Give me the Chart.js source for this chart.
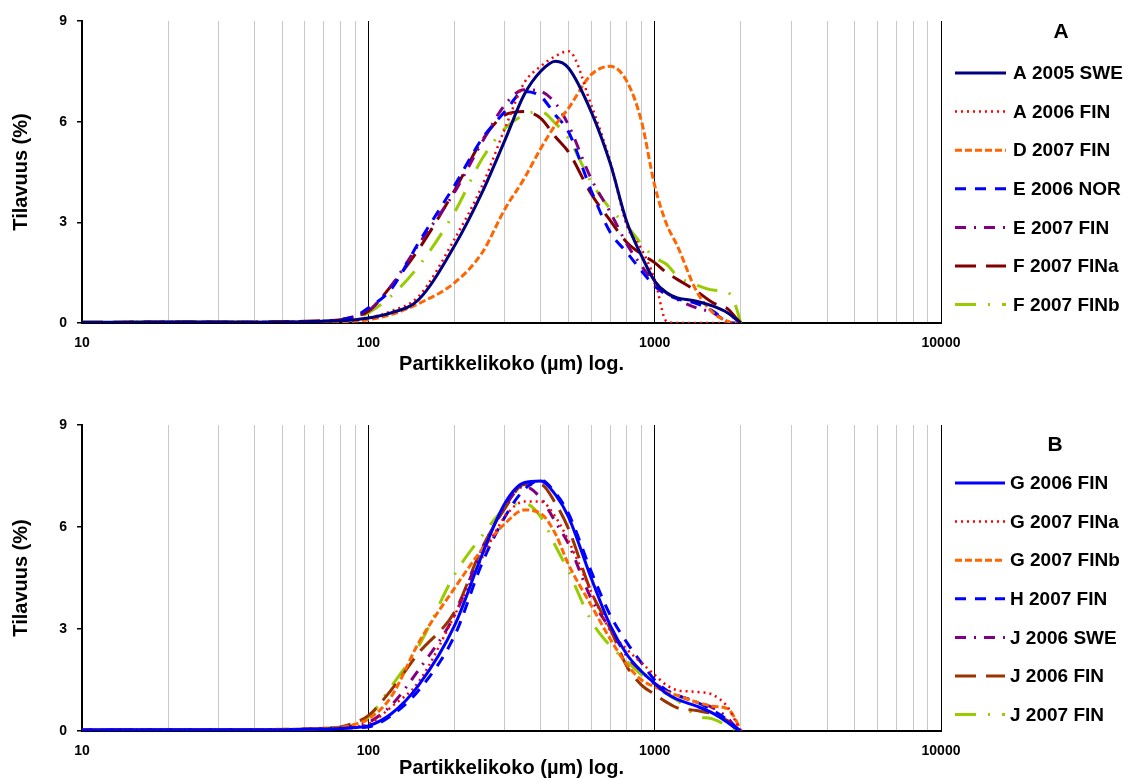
<!DOCTYPE html>
<html>
<head>
<meta charset="utf-8">
<script src="https://cdn.jsdelivr.net/npm/chart.js@4.4.1/dist/chart.umd.min.js"></script>
<style>
  html, body { margin: 0; padding: 0; background: #fff; }
  #wrap { position: relative; width: 1129px; height: 778px; }
  canvas { position: absolute; left: 0; }
</style>
</head>
<body>
<div id="wrap">
  <canvas id="chartA" width="1129" height="389" style="top:0"></canvas>
  <canvas id="chartB" width="1129" height="389" style="top:389px"></canvas>
</div>
<script>
// particle size (µm) where the curves were read
const sizes = [10, 20, 30, 40, 50, 60, 70, 80, 90, 100, 120, 150, 200, 250, 300, 350, 400, 450, 500,
               600, 700, 800, 900, 1000, 1100, 1200, 1400, 1600, 1800, 1900, 2000];
const xTickLabels = [10, 100, 1000, 10000];
const yTicks = [0, 3, 6, 9];

// panel A
const labelsA = ["A 2005 SWE", "A 2006 FIN", "D 2007 FIN", "E 2006 NOR", "E 2007 FIN", "F 2007 FINa", "F 2007 FINb"];
const a2005swe = [0.02,0.03,0.03,0.02,0.03,0.04,0.05,0.07,0.1,0.15,0.3,0.7,2.3,3.9,5.45,6.8,7.5,7.8,7.6,6.3,4.75,3.0,2.0,1.25,0.9,0.75,0.65,0.5,0.3,0.15,0];
const a2006fin = [0.02,0.03,0.03,0.02,0.03,0.04,0.05,0.07,0.1,0.15,0.35,0.8,2.5,4.1,5.8,7.15,7.65,7.95,8.1,6.5,4.8,2.9,2.2,1.3,0.05,0,0,0,0,0,0];
const d2007fin = [0.01,0.01,0.01,0.01,0.01,0.02,0.03,0.04,0.06,0.1,0.25,0.58,1.2,2.1,3.4,4.3,5.2,5.9,6.4,7.4,7.65,7.2,6.0,4.1,2.95,2.3,0.95,0.3,0.05,0,0];
const e2006nor = [0.01,0.02,0.02,0.02,0.02,0.03,0.05,0.1,0.2,0.45,1.0,2.4,4.1,5.5,6.3,6.9,6.75,6.2,5.7,3.95,2.7,2.1,1.55,1.1,0.85,0.72,0.58,0.35,0.03,0,0];
const e2007fin = [0.01,0.02,0.02,0.02,0.02,0.03,0.05,0.1,0.2,0.35,1.1,2.35,3.9,5.4,6.5,6.95,6.9,6.55,5.9,4.3,3.3,2.35,1.7,1.2,0.9,0.7,0.45,0.3,0.03,0,0];
const f2007fina = [0.02,0.03,0.03,0.03,0.04,0.05,0.07,0.1,0.2,0.35,1.1,2.2,3.95,5.45,6.2,6.3,6.1,5.55,5.1,3.85,3.05,2.4,2.05,1.8,1.5,1.3,0.95,0.6,0.42,0.2,0];
const f2007finb = [0.02,0.03,0.03,0.03,0.03,0.04,0.05,0.08,0.15,0.3,0.8,1.7,3.3,4.9,5.8,6.2,6.3,5.95,5.5,4.2,3.4,2.9,2.35,1.95,1.75,1.4,1.13,0.98,0.92,0.6,0];

// panel B
const labelsB = ["G 2006 FIN", "G 2007 FINa", "G 2007 FINb", "H 2007 FIN", "J 2006 SWE", "J 2006 FIN", "J 2007 FIN"];
const g2006fin = [0.03,0.04,0.04,0.04,0.04,0.05,0.06,0.07,0.1,0.15,0.5,1.35,3.1,5.2,6.7,7.3,7.35,6.95,6.3,4.5,3.1,2.25,1.75,1.4,1.1,0.93,0.73,0.52,0.25,0.1,0];
const g2007fina = [0.03,0.04,0.04,0.04,0.04,0.05,0.06,0.08,0.12,0.2,0.7,1.45,3.4,5.1,6.3,6.75,6.75,6.3,5.6,4.1,2.95,2.4,2.0,1.65,1.35,1.2,1.15,1.06,0.7,0.35,0];
const g2007finb = [0.03,0.04,0.04,0.04,0.05,0.06,0.08,0.1,0.2,0.35,1.0,2.6,4.2,5.35,6.1,6.5,6.4,5.8,4.9,3.7,2.7,1.95,1.5,1.3,1.15,1.05,0.85,0.73,0.65,0.4,0];
const h2007fin = [0.03,0.04,0.04,0.04,0.04,0.05,0.06,0.07,0.1,0.12,0.45,1.2,2.8,4.95,6.3,7.1,7.38,7.0,6.4,4.7,3.4,2.6,2.0,1.5,1.2,1.05,0.85,0.6,0.32,0.15,0];
const j2006swe = [0.03,0.04,0.04,0.04,0.04,0.05,0.07,0.1,0.15,0.25,0.75,1.8,3.4,5.35,6.6,7.2,6.85,6.15,5.5,3.9,3.0,2.2,1.75,1.4,1.2,1.05,0.85,0.68,0.38,0.15,0];
const j2006fin = [0.03,0.04,0.04,0.04,0.04,0.06,0.08,0.12,0.25,0.45,1.2,2.3,3.5,5.4,6.55,7.25,7.25,6.7,5.95,4.1,3.0,1.9,1.35,1.08,0.85,0.68,0.6,0.5,0.3,0.12,0];
const j2007fin = [0.03,0.04,0.04,0.04,0.05,0.06,0.08,0.12,0.2,0.4,1.3,2.5,4.6,5.75,6.55,6.7,6.3,5.45,4.7,3.25,2.5,2.05,1.65,1.35,1.1,0.9,0.45,0.35,0.15,0.05,0];

const FONT = '"Liberation Sans", Arial, sans-serif';

function series(label, values, color, width, dash) {
  return {
    label: label,
    data: sizes.map((x, i) => ({ x: x, y: values[i] })),
    borderColor: color,
    borderWidth: width,
    borderDash: dash,
    borderCapStyle: 'butt',
    pointRadius: 0,
    fill: false,
    cubicInterpolationMode: 'monotone'
  };
}

// legend drawn at the right with line samples in each dataset's style
const sideLegend = {
  id: 'sideLegend',
  afterDraw(chart, args, o) {
    const ctx = chart.ctx;
    ctx.save();
    ctx.fillStyle = '#000';
    ctx.textBaseline = 'middle';
    ctx.textAlign = 'center';
    ctx.font = 'bold 21px ' + FONT;
    ctx.fillText(o.title, o.titleX, o.titleY);
    ctx.textAlign = 'left';
    ctx.font = 'bold 19px ' + FONT;
    chart.data.datasets.forEach((ds, i) => {
      const y = o.top + i * o.step;
      ctx.strokeStyle = ds.borderColor;
      ctx.lineWidth = ds.borderWidth;
      ctx.setLineDash(ds.borderDash || []);
      ctx.beginPath();
      ctx.moveTo(o.x0, y);
      ctx.lineTo(o.x1, y);
      ctx.stroke();
      ctx.setLineDash([]);
      ctx.fillText(ds.label, o.textX, y + 1);
    });
    ctx.restore();
  }
};

function makeChart(id, datasets, opt) {
  const gridTicks = [];
  for (let d = 10; d < 10000; d *= 10) {
    for (let k = 1; k < 10; k++) gridTicks.push(k * d);
  }
  gridTicks.push(10000);

  return new Chart(document.getElementById(id), {
    type: 'line',
    data: { datasets: datasets },
    plugins: [sideLegend],
    options: {
      responsive: false,
      animation: false,
      layout: { padding: { left: 0, right: 188, top: opt.top, bottom: 0 } },
      plugins: {
        legend: { display: false },
        tooltip: { enabled: false },
        sideLegend: opt.legend
      },
      scales: {
        x: {
          type: 'logarithmic',
          min: 10,
          max: 10000,
          afterBuildTicks: s => { s.ticks = gridTicks.map(v => ({ value: v })); },
          afterFit: s => { s.height = opt.xHeight; },
          border: { color: '#000', width: 2 },
          grid: {
            drawTicks: false,
            color: c => (xTickLabels.includes(c.tick.value) ? '#000' : '#c8c8c8'),
            lineWidth: 1
          },
          ticks: {
            autoSkip: false,
            maxRotation: 0,
            padding: 12,
            color: '#000',
            font: { family: FONT, size: 14, weight: 'bold' },
            callback: v => (xTickLabels.includes(v) ? String(v) : '')
          },
          title: {
            display: true,
            text: 'Partikkelikoko (µm) log.',
            color: '#000',
            font: { family: FONT, size: 20, weight: 'bold', lineHeight: 1 },
            padding: { top: 0, bottom: opt.titlePad }
          }
        },
        y: {
          min: 0,
          max: 9,
          afterBuildTicks: s => { s.ticks = yTicks.map(v => ({ value: v })); },
          afterFit: s => { s.width = 82; },
          border: { color: '#000', width: 2 },
          grid: { drawOnChartArea: false, drawTicks: true, tickLength: 5, color: '#000', lineWidth: 1.5 },
          ticks: {
            padding: 10,
            color: '#000',
            font: { family: FONT, size: 14, weight: 'bold' }
          },
          title: {
            display: true,
            text: 'Tilavuus (%)',
            color: '#000',
            font: { family: FONT, size: 20, weight: 'bold', lineHeight: 1 },
            padding: { top: 11, bottom: 0 }
          }
        }
      }
    }
  });
}

makeChart('chartA', [
  series(labelsA[0], a2005swe, '#000080', 3, []),
  series(labelsA[1], a2006fin, '#FF0000', 2.5, [2, 4]),
  series(labelsA[2], d2007fin, '#FF6600', 3, [7, 3]),
  series(labelsA[3], e2006nor, '#0000FF', 3, [11, 9]),
  series(labelsA[4], e2007fin, '#800080', 3, [11, 8, 2, 8]),
  series(labelsA[5], f2007fina, '#800000', 3, [21, 10]),
  series(labelsA[6], f2007finb, '#99CC00', 3, [21, 12, 2, 12])
], {
  top: 21, xHeight: 66, titlePad: 15,
  legend: { title: 'A', titleX: 1061, titleY: 32, top: 73, step: 38.6, x0: 955, x1: 1006, textX: 1013 }
});

makeChart('chartB', [
  series(labelsB[0], g2006fin, '#0000FF', 3, []),
  series(labelsB[1], g2007fina, '#FF0000', 2.5, [2, 4]),
  series(labelsB[2], g2007finb, '#FF6600', 3, [7, 3]),
  series(labelsB[3], h2007fin, '#0000FF', 3, [11, 9]),
  series(labelsB[4], j2006swe, '#800080', 3, [11, 8, 2, 8]),
  series(labelsB[5], j2006fin, '#993300', 3, [21, 10]),
  series(labelsB[6], j2007fin, '#99CC00', 3, [21, 12, 2, 12])
], {
  top: 36, xHeight: 47, titlePad: 0,
  legend: { title: 'B', titleX: 1055, titleY: 56, top: 94, step: 38.6, x0: 955, x1: 1005, textX: 1010 }
});
</script>
</body>
</html>
